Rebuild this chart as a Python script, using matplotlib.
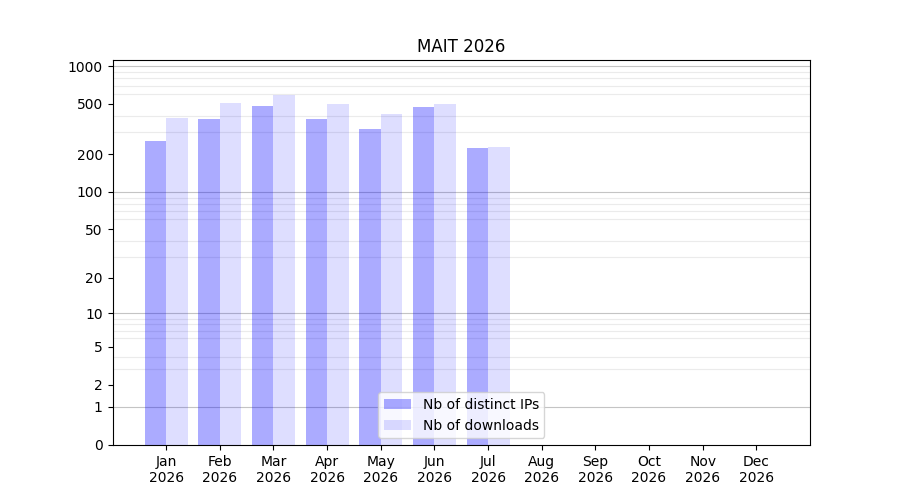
import numpy as np
import matplotlib
matplotlib.use('Agg')
import matplotlib.pyplot as plt
from matplotlib.ticker import FixedLocator

# monthly stats
months = ['Jan', 'Feb', 'Mar', 'Apr', 'May', 'Jun', 'Jul', 'Aug', 'Sep', 'Oct', 'Nov', 'Dec']
year = '2026'
distinct_ips = [253, 379, 481, 379, 315, 472, 222, 0, 0, 0, 0, 0]
downloads = [386, 508, 588, 501, 415, 501, 227, 0, 0, 0, 0, 0]
ytick_vals = [0, 1, 2, 5, 10, 20, 50, 100, 200, 500, 1000]
decades = [1, 10, 100, 1000]


def fwd(v):
    return np.log10(1 + np.maximum(v, 0))


def inv(t):
    return 10 ** t - 1


fig, ax = plt.subplots(figsize=(9, 5), dpi=100)
ax.set_axisbelow(True)
x = np.arange(len(months))
ax.bar(x, distinct_ips, width=-0.4, align='edge', color='blue', alpha=0.33,
       label='Nb of distinct IPs', zorder=2)
ax.bar(x, downloads, width=0.4, align='edge', color='blue', alpha=0.13,
       label='Nb of downloads', zorder=2)

ax.set_yscale('function', functions=(fwd, inv))
ax.set_ylim(0, 1116)
ax.set_xlim(-1, 12)
ax.set_yticks(ytick_vals)
ax.set_yticklabels([str(v) for v in ytick_vals])
minor = [m * 10 ** k for k in range(3) for m in range(2, 10)]
ax.yaxis.set_minor_locator(FixedLocator(minor))
ax.tick_params(axis='y', which='minor', length=0)
ax.grid(which='minor', axis='y', color='#ebebeb', linewidth=0.8, zorder=0.5)
for d in decades:
    ax.axhline(d, color='#c4c4c4', linewidth=0.8, zorder=0.6)

ax.set_xticks(x)
ax.set_xticklabels([m + '\n' + year for m in months])
ax.set_title('MAIT 2026')
ax.legend(loc='lower center')

fig.savefig('out.png')
